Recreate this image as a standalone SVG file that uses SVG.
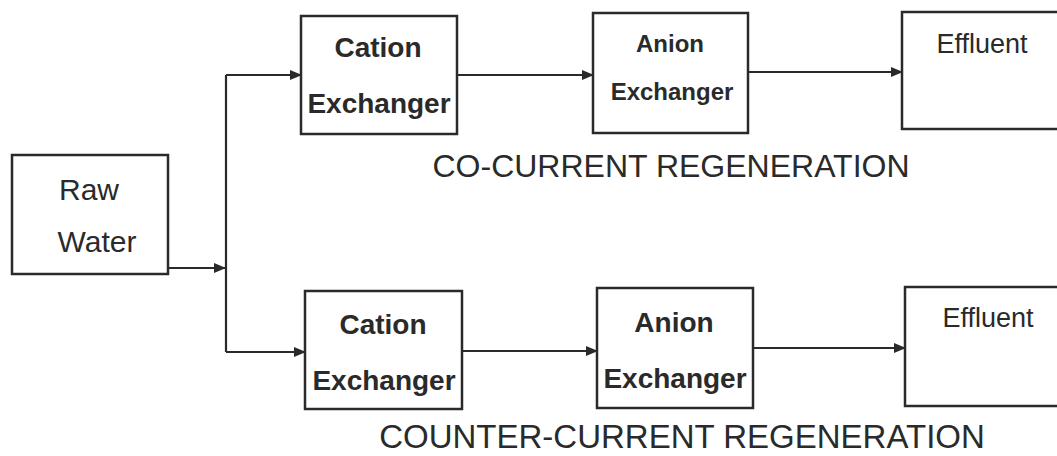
<svg xmlns="http://www.w3.org/2000/svg" width="1057" height="456" viewBox="0 0 1057 456">
<style>
.box{fill:#fff;stroke:#2a2a2a;stroke-width:2.5}
.t{font-family:"Liberation Sans",Arial,sans-serif;fill:#2a2a2a;text-anchor:middle}
.b{font-weight:bold}
.c{fill:none;stroke:#2a2a2a;stroke-width:2.2}
</style>
<defs>
<marker id="ah" markerUnits="userSpaceOnUse" markerWidth="12" markerHeight="10" refX="11" refY="5" orient="auto">
<path d="M0,0 L12,5 L0,10 Z" fill="#2a2a2a"/>
</marker>
</defs>
<rect width="1057" height="456" fill="#fff"/>
<g id="connectors">
<path class="c" d="M168,268 L225,268" marker-end="url(#ah)"/>
<path class="c" d="M226,75 L226,352"/>
<path class="c" d="M226,75 L301,75" marker-end="url(#ah)"/>
<path class="c" d="M226,352 L305,352" marker-end="url(#ah)"/>
<path class="c" d="M457,75 L593,75" marker-end="url(#ah)"/>
<path class="c" d="M748,72 L902,72" marker-end="url(#ah)"/>
<path class="c" d="M462,351 L597,351" marker-end="url(#ah)"/>
<path class="c" d="M753,348 L905,348" marker-end="url(#ah)"/>
</g>
<g id="raw-water">
<rect class="box" x="12" y="155" width="156" height="119"/>
<text class="t" x="89" y="200" font-size="30">Raw</text>
<text class="t" x="97" y="252" font-size="30">Water</text>
</g>
<g id="cation-top">
<rect class="box" x="301" y="16" width="156" height="118"/>
<text class="t b" x="378" y="57" font-size="28">Cation</text>
<text class="t b" x="379" y="113" font-size="28">Exchanger</text>
</g>
<g id="anion-top">
<rect class="box" x="593" y="13" width="155" height="120"/>
<text class="t b" x="670" y="52" font-size="24">Anion</text>
<text class="t b" x="672" y="100" font-size="24">Exchanger</text>
</g>
<g id="effluent-top">
<rect class="box" x="902" y="12" width="165" height="117"/>
<text class="t" x="982" y="53" font-size="27">Effluent</text>
</g>
<g id="label-co">
<text class="t" x="671" y="177" font-size="32">CO-CURRENT REGENERATION</text>
</g>
<g id="cation-bottom">
<rect class="box" x="305" y="291" width="157" height="118"/>
<text class="t b" x="383" y="334" font-size="28">Cation</text>
<text class="t b" x="384" y="390" font-size="28">Exchanger</text>
</g>
<g id="anion-bottom">
<rect class="box" x="597" y="288" width="156" height="120"/>
<text class="t b" x="674" y="332" font-size="28">Anion</text>
<text class="t b" x="675" y="388" font-size="28">Exchanger</text>
</g>
<g id="effluent-bottom">
<rect class="box" x="905" y="287" width="165" height="119"/>
<text class="t" x="988" y="327" font-size="27">Effluent</text>
</g>
<g id="label-counter">
<text class="t" x="682" y="448" font-size="33">COUNTER-CURRENT REGENERATION</text>
</g>
</svg>
